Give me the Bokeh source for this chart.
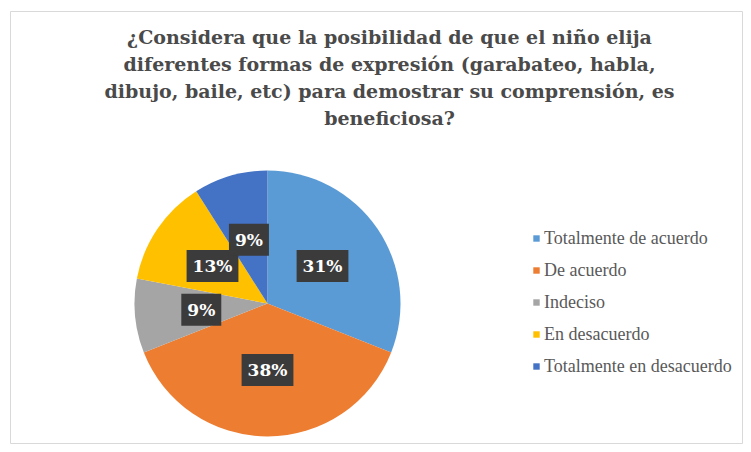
import math
from bokeh.plotting import figure
from bokeh.models import ColumnDataSource, Legend, LegendItem, Range1d
from bokeh.core.properties import value
from bokeh.embed import file_html
from bokeh.resources import INLINE

# ---- data ----
categories = ["Totalmente de acuerdo", "De acuerdo", "Indeciso",
              "En desacuerdo", "Totalmente en desacuerdo"]
percentages = [31, 38, 9, 13, 9]
colors = ["#5B9BD5", "#ED7D31", "#A5A5A5", "#FFC000", "#4472C4"]
title_lines = ["¿Considera que la posibilidad de que el niño elija",
               "diferentes formas de expresión (garabateo, habla,",
               "dibujo, baile, etc) para demostrar su comprensión, es",
               "beneficiosa?"]

SERIF = "'Liberation Serif', 'Times New Roman', serif"
SERIF_BOLD = "'DejaVu Serif', serif"

# ---- layout ----
W, H = 743, 444
BL, BT = 10, 11
FW, FH = W - BL, H - BT
CX, CY, R = 257, FH - (303 - BT), 133

total = float(sum(percentages))
starts, ends, lx, ly, labels = [], [], [], [], []
cum = 0.0
for v in percentages:
    a0 = math.pi / 2 - 2 * math.pi * cum / total
    cum += v
    a1 = math.pi / 2 - 2 * math.pi * cum / total
    starts.append(a0)
    ends.append(a1)
    mid = (a0 + a1) / 2
    lx.append(CX + 0.5 * R * math.cos(mid))
    ly.append(CY + 0.5 * R * math.sin(mid))
    labels.append(f"{v}%")

src = ColumnDataSource(dict(cat=categories, val=percentages, color=colors,
                            start=starts, end=ends, lx=lx, ly=ly, label=labels))

p = figure(width=W, height=H, output_backend="svg", toolbar_location=None,
           x_range=Range1d(0, FW), y_range=Range1d(0, FH),
           x_axis_location=None, y_axis_location=None,
           min_border_left=BL, min_border_top=BT, min_border_right=0, min_border_bottom=0)
p.grid.visible = False
p.outline_line_color = "#d9d9d9"
p.background_fill_color = "white"
p.border_fill_color = "white"

wedges = p.wedge(x=CX, y=CY, radius=R, start_angle="start", end_angle="end",
                 direction="clock", fill_color="color", line_color=None, source=src)

p.text(x="lx", y="ly", text="label", source=src,
       text_align="center", text_baseline="middle",
       text_font=value(SERIF_BOLD), text_font_style="bold",
       text_font_size="17px", text_color="white",
       background_fill_color="#3b3b3b", padding=6)

# title
tsrc = ColumnDataSource(dict(x=[389 - BL] * len(title_lines),
                             y=[FH - (36 - BT) - 27 * i for i in range(len(title_lines))],
                             t=title_lines))
p.text(x="x", y="y", text="t", source=tsrc, text_align="center",
       text_baseline="middle", text_font=value(SERIF_BOLD),
       text_font_style="bold", text_font_size="19px", text_color="#4a4a4a")

items = [LegendItem(label=c, renderers=[wedges], index=i) for i, c in enumerate(categories)]
legend = Legend(items=items, location=(522, 67), padding=0, margin=0,
                border_line_color=None, background_fill_alpha=0,
                glyph_width=8, glyph_height=8, label_standoff=4,
                label_height=22, spacing=10,
                label_text_font=SERIF, label_text_font_size="18px",
                label_text_color="#595959")
p.add_layout(legend)

open("out.html", "w").write(file_html(p, INLINE))
